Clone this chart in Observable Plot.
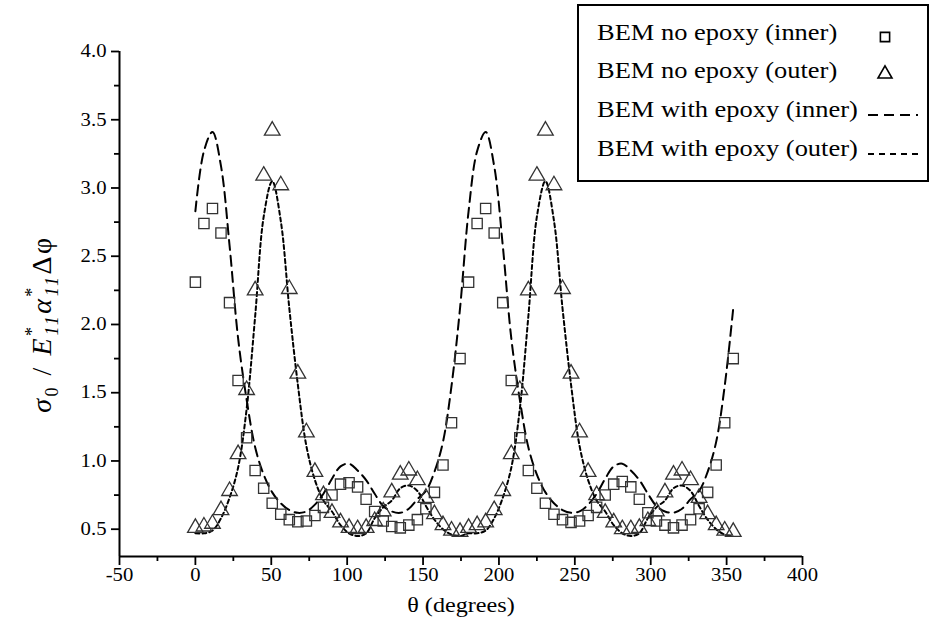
<!DOCTYPE html>
<html><head><meta charset="utf-8">
<script src="https://cdn.jsdelivr.net/npm/d3@7"></script>
<script src="https://cdn.jsdelivr.net/npm/@observablehq/plot@0.6"></script>
<style>
body{margin:0;background:#fff}
#chart{width:934px;height:624px;position:relative}
#chart svg, #chart svg text{font-family:"Liberation Serif","Times New Roman",serif}
</style>
</head><body><div id="chart"></div>
<script>
// θ (degrees) sample positions
const angles = [0,5.625,11.25,16.875,22.5,28.125,33.75,39.375,45,50.625,56.25,61.875,67.5,73.125,78.75,84.375,
  90,95.625,101.25,106.875,112.5,118.125,123.75,129.375,135,140.625,146.25,151.875,157.5,163.125,168.75,174.375,
  180,185.625,191.25,196.875,202.5,208.125,213.75,219.375,225,230.625,236.25,241.875,247.5,253.125,258.75,264.375,
  270,275.625,281.25,286.875,292.5,298.125,303.75,309.375,315,320.625,326.25,331.875,337.5,343.125,348.75,354.375];

// BEM no epoxy (inner) – squares
const noEpoxyInner = [2.31,2.74,2.85,2.67,2.16,1.59,1.17,0.93,0.80,0.69,0.61,0.57,0.555,0.56,0.60,0.66,
  0.75,0.83,0.84,0.81,0.72,0.63,0.56,0.52,0.51,0.53,0.57,0.65,0.77,0.97,1.28,1.75,
  2.31,2.74,2.85,2.67,2.16,1.59,1.17,0.93,0.80,0.69,0.61,0.57,0.55,0.56,0.60,0.66,
  0.75,0.83,0.85,0.81,0.72,0.62,0.56,0.53,0.51,0.53,0.57,0.65,0.77,0.97,1.28,1.75];

// BEM no epoxy (outer) – triangles
const noEpoxyOuter = [0.51,0.52,0.54,0.64,0.78,1.05,1.52,2.25,3.09,3.42,3.02,2.26,1.64,1.21,0.92,0.75,
  0.62,0.55,0.51,0.50,0.51,0.56,0.63,0.77,0.90,0.93,0.86,0.73,0.61,0.53,0.49,0.48,
  0.51,0.53,0.55,0.64,0.78,1.05,1.52,2.25,3.09,3.42,3.02,2.26,1.64,1.21,0.92,0.75,
  0.62,0.55,0.50,0.50,0.51,0.56,0.63,0.77,0.90,0.93,0.86,0.73,0.61,0.53,0.49,0.48];

// BEM with epoxy (inner) – long dashes
const epoxyInner = [2.83,3.27,3.41,3.16,2.58,1.90,1.45,1.10,0.90,0.77,0.69,0.64,0.62,0.63,0.68,0.76,
  0.87,0.96,0.98,0.93,0.86,0.76,0.67,0.63,0.62,0.65,0.72,0.78,0.92,1.14,1.55,2.12,
  2.83,3.27,3.41,3.16,2.58,1.90,1.45,1.10,0.90,0.77,0.69,0.64,0.62,0.63,0.68,0.76,
  0.87,0.96,0.98,0.93,0.86,0.76,0.67,0.63,0.62,0.65,0.72,0.78,0.92,1.14,1.55,2.12];

// BEM with epoxy (outer) – short dashes
const epoxyOuter = [0.47,0.47,0.49,0.58,0.73,0.95,1.38,2.06,2.79,3.05,2.76,2.12,1.56,1.11,0.86,0.71,
  0.63,0.53,0.47,0.45,0.47,0.58,0.66,0.71,0.80,0.82,0.78,0.67,0.57,0.50,0.46,0.45,
  0.47,0.47,0.49,0.58,0.73,0.95,1.38,2.06,2.79,3.05,2.76,2.12,1.56,1.11,0.86,0.71,
  0.63,0.53,0.47,0.45,0.47,0.58,0.66,0.71,0.80,0.82,0.78,0.67,0.57,0.50,0.46,0.45];

const xMajor = [-50,0,50,100,150,200,250,300,350,400];
const xMinor = [-25,25,75,125,175,225,275,325,375];
const yMajor = [0.5,1.0,1.5,2.0,2.5,3.0,3.5,4.0];
const yMinor = [0.75,1.25,1.75,2.25,2.75,3.25,3.75];

const legendLabels = ["BEM no epoxy (inner)","BEM no epoxy (outer)","BEM with epoxy (inner)","BEM with epoxy (outer)"];
const xTitle = "θ (degrees)";

const data = angles.map((a,i)=>({a, inner:noEpoxyInner[i], outer:noEpoxyOuter[i], eIn:epoxyInner[i], eOut:epoxyOuter[i]}));

const FONT = "Liberation Serif";
const STRETCH = 1.15; // the reference's lettering is a little wider than it is tall
const svg = Plot.plot({
  width: 934, height: 624,
  marginLeft: 119, marginRight: 132, marginTop: 51, marginBottom: 68,
  x: {domain: [-50, 400]},
  y: {domain: [0.3, 4.0]},
  style: {fontFamily: FONT, fontSize: "18px", color: "#000", background: "#fff", overflow: "visible"},
  marks: [
    Plot.axisX(xMajor, {tickSize: 9, tickPadding: 3, strokeWidth: 1.8, label: null, tickFormat: d => String(d)}),
    Plot.axisX(xMinor, {tickSize: 5, strokeWidth: 1.8, label: null, tickFormat: () => ""}),
    Plot.axisY(yMajor, {tickSize: 8, tickPadding: 5, strokeWidth: 1.8, label: null, tickFormat: d3.format(".1f")}),
    Plot.axisY(yMinor, {tickSize: 5, strokeWidth: 1.8, label: null, tickFormat: () => ""}),
    Plot.ruleX([-50], {strokeWidth: 2}),
    Plot.ruleY([0.3], {strokeWidth: 2}),
    Plot.line(data, {x: "a", y: "eIn", curve: "catmull-rom", stroke: "#000", strokeWidth: 2, strokeDasharray: "10,6"}),
    Plot.line(data, {x: "a", y: "eOut", curve: "catmull-rom", stroke: "#000", strokeWidth: 2, strokeDasharray: "4,3"}),
    Plot.dot(data, {x: "a", y: "inner", symbol: "square", r: 5.8, stroke: "#333", strokeWidth: 1.3, fill: "none"}),
    Plot.dot(data, {x: "a", y: "outer", symbol: "triangle", r: 5.8, stroke: "#333", strokeWidth: 1.3, fill: "none"}),
    Plot.text([xTitle], {frameAnchor: "bottom", lineAnchor: "middle", dy: 49, fontSize: 21, fill: "#000"})
  ]
});
document.getElementById("chart").appendChild(svg);

const s = d3.select(svg);
function stretch(sel) {
  sel.each(function() {
    if (!this.textContent) return;
    const L = this.getComputedTextLength();
    if (L > 0) {
      this.setAttribute("textLength", (L * STRETCH).toFixed(1));
      this.setAttribute("lengthAdjust", "spacingAndGlyphs");
    }
  });
}
stretch(s.selectAll("text"));

// y-axis title with sub/superscripts
const yt = s.append("text")
  .attr("transform", "translate(51,324) rotate(-90)")
  .attr("text-anchor", "middle")
  .attr("font-family", FONT)
  .attr("font-size", 28)
  .attr("letter-spacing", 2.5)
  .attr("fill", "#000");
yt.append("tspan").attr("font-style", "italic").text("σ");
yt.append("tspan").attr("font-size", 18).attr("dy", 7).text("0");
yt.append("tspan").attr("dy", -7).text(" / ");
yt.append("tspan").attr("font-style", "italic").text("E");
yt.append("tspan").attr("font-size", 18).attr("dy", -13).text("*");
yt.append("tspan").attr("font-size", 18).attr("font-style", "italic").attr("dx", -11).attr("dy", 20).text("11");
yt.append("tspan").attr("font-style", "italic").attr("dy", -7).text("α");
yt.append("tspan").attr("font-size", 18).attr("dy", -13).text("*");
yt.append("tspan").attr("font-size", 18).attr("font-style", "italic").attr("dx", -11).attr("dy", 20).text("11");
yt.append("tspan").attr("dy", -7).text("Δφ");

// legend
const lg = s.append("g").attr("font-family", FONT).attr("font-size", 23).attr("text-anchor", "start");
lg.append("rect").attr("x", 578).attr("y", 5).attr("width", 350).attr("height", 176)
  .attr("fill", "#fff").attr("stroke", "#000").attr("stroke-width", 2);
const rows = [40, 78, 117, 156];
const legendTexts = legendLabels.map((t, i) =>
  lg.append("text").attr("x", 597).attr("y", rows[i]).attr("fill", "#000").attr("text-anchor", "start").text(t));
legendTexts.forEach(stretch);
lg.append("path").attr("d", d3.symbol(d3.symbolSquare, Math.PI*5.2*5.2)())
  .attr("transform", `translate(885,${rows[0]-3})`).attr("fill", "none").attr("stroke", "#000").attr("stroke-width", 1.6);
lg.append("path").attr("d", d3.symbol(d3.symbolTriangle, Math.PI*5.2*5.2)())
  .attr("transform", `translate(885,${rows[1]-4})`).attr("fill", "none").attr("stroke", "#000").attr("stroke-width", 1.6);
lg.append("line").attr("x1", 868).attr("x2", 918).attr("y1", rows[2]-2).attr("y2", rows[2]-2)
  .attr("stroke", "#000").attr("stroke-width", 2).attr("stroke-dasharray", "10,6");
lg.append("line").attr("x1", 868).attr("x2", 918).attr("y1", rows[3]-2).attr("y2", rows[3]-2)
  .attr("stroke", "#000").attr("stroke-width", 2).attr("stroke-dasharray", "6,5");
</script>
</body></html>
